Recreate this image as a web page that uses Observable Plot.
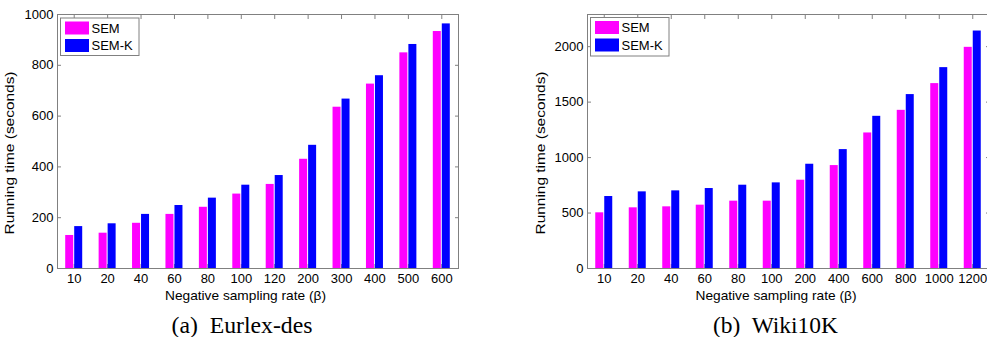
<!DOCTYPE html>
<html><head><meta charset="utf-8">
<script src="https://cdn.jsdelivr.net/npm/d3@7"></script>
<script src="https://cdn.jsdelivr.net/npm/@observablehq/plot@0.6"></script>
<style>
html,body{margin:0;padding:0;background:#fff;}
#root{position:relative;width:987px;height:337px;overflow:hidden;background:#fff;}
#root > svg{position:absolute;top:0;margin:0;}
</style></head><body><div id="root"></div>
<script>
// ---- data ----
const seriesNames = ["SEM", "SEM-K"];
const categoriesA = ["10","20","40","60","80","100","120","200","300","400","500","600"];
const semA  = [130,139,178,213,241,293,331,430,635,726,849,933];
const semKA = [165,176,213,248,277,328,366,485,667,759,882,963];
const yTicksA = [0,200,400,600,800,1000];

const categoriesB = ["10","20","40","60","80","100","200","400","600","800","1000","1200"];
const semB  = [502,547,556,571,607,607,796,928,1222,1426,1667,1994];
const semKB = [649,691,700,721,751,772,940,1072,1372,1568,1811,2141];
const yTicksB = [0,500,1000,1500,2000];

const xLabel = "Negative sampling rate (β)";
const yLabel = "Running time (seconds)";
const captions = ["(a)  Eurlex-des", "(b)  Wiki10K"];

// ---- styles ----
const colors = ["#ff00ff", "#0000ff"];
const grey = "#808080";
const root = document.getElementById("root");

function chart({cats, sem, semK, yMax, yTicks, left, width, marginLeft, marginRight}) {
  const W = width - marginLeft - marginRight;
  const half = W / cats.length / 2;
  const rows = cats.map((c, i) => ({cat: c, sem: sem[i], semK: semK[i]}));
  const svg = Plot.plot({
    width, height: 300, marginLeft, marginRight, marginTop: 14, marginBottom: 32,
    style: {fontFamily: "'Liberation Sans', Arial, sans-serif", fontSize: "13px", color: "#000", background: "transparent", overflow: "visible"},
    x: {type: "band", domain: cats, padding: 0, round: false, label: null},
    y: {domain: [0, yMax], label: null},
    marks: [
      Plot.axisX({anchor: "top", tickSize: -4, tickFormat: () => "", stroke: grey, label: null}),
      Plot.axisX({anchor: "bottom", tickSize: -4, tickFormat: () => "", stroke: grey, label: null}),
      Plot.axisX({anchor: "bottom", tickSize: 0, tickPadding: 5, label: null, fill: "#000"}),
      Plot.axisY(yTicks, {anchor: "left", tickSize: -4, tickFormat: () => "", stroke: grey, label: null}),
      Plot.axisY(yTicks, {anchor: "right", tickSize: -4, tickFormat: () => "", stroke: grey, label: null}),
      Plot.axisY(yTicks, {anchor: "left", tickSize: 0, tickPadding: 4, tickFormat: d => String(d), label: null, fill: "#000"}),
      Plot.barY(rows, {x: "cat", y: "sem", fill: colors[0], insetLeft: half - 8.5, insetRight: half + 0.5}),
      Plot.barY(rows, {x: "cat", y: "semK", fill: colors[1], insetLeft: half + 0.5, insetRight: half - 8.5}),
      Plot.frame({stroke: grey})
    ]
  });
  svg.style.left = left + "px";
  root.appendChild(svg);
}

chart({cats: categoriesA, sem: semA, semK: semKA, yMax: 1000, yTicks: yTicksA, left: 0, width: 470, marginLeft: 57, marginRight: 12});
chart({cats: categoriesB, sem: semB, semK: semKB, yMax: 2290, yTicks: yTicksB, left: 500, width: 500, marginLeft: 87, marginRight: 11});

// ---- overlay: axis titles, legends, captions ----
const ov = d3.select(root).append("svg")
  .attr("width", 987).attr("height", 337)
  .style("left", "0px").style("font-family", "'Liberation Sans', Arial, sans-serif");

const panels = [
  {yl: {x: 14, y: 153}, xl: {x: 245.5, y: 300}, cap: {x: 242, y: 333, w: 141}, leg: {x: 60.5, y: 18, w: 78.5, h: 37.5}},
  {yl: {x: 545, y: 153}, xl: {x: 776, y: 300}, cap: {x: 775.5, y: 333, w: 125}, leg: {x: 590.5, y: 17.5, w: 78.5, h: 38.5}}
];
panels.forEach((p, i) => {
  ov.append("text").attr("transform", `translate(${p.yl.x},${p.yl.y}) rotate(-90)`)
    .attr("text-anchor", "middle").attr("font-size", 13.5)
    .attr("textLength", 163).attr("lengthAdjust", "spacingAndGlyphs").text(yLabel);
  ov.append("text").attr("x", p.xl.x).attr("y", p.xl.y)
    .attr("text-anchor", "middle").attr("font-size", 13.5)
    .attr("textLength", 161).attr("lengthAdjust", "spacingAndGlyphs").text(xLabel);
  ov.append("text").attr("x", p.cap.x).attr("y", p.cap.y)
    .attr("text-anchor", "middle").attr("font-size", 24)
    .attr("font-family", "'Liberation Serif', 'Times New Roman', serif")
    .attr("textLength", p.cap.w).attr("lengthAdjust", "spacingAndGlyphs")
    .style("white-space", "pre").text(captions[i]);
  const g = ov.append("g");
  g.append("rect").attr("x", p.leg.x).attr("y", p.leg.y).attr("width", p.leg.w).attr("height", p.leg.h)
    .attr("fill", "#fff").attr("stroke", grey);
  seriesNames.forEach((name, j) => {
    const yy = p.leg.y + 3.5 + j * 17.5;
    g.append("rect").attr("x", p.leg.x + 4.5).attr("y", yy).attr("width", 24).attr("height", 13)
      .attr("fill", colors[j]);
    g.append("text").attr("x", p.leg.x + 31).attr("y", yy + 11).attr("font-size", 13)
      .text(name);
  });
});
</script></body></html>
